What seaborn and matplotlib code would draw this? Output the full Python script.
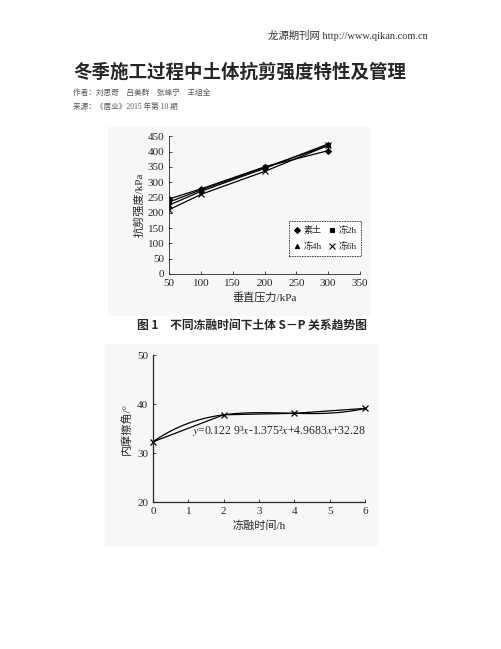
import numpy as np
import pandas as pd
import seaborn as sns
import matplotlib.pyplot as plt
from matplotlib.patches import Rectangle

# data
pressure = [50, 100, 200, 300]
s_plain = [245, 278, 350, 403]   # 素土
s_2h = [235, 275, 348, 420]      # 冻2h
s_4h = [225, 270, 345, 425]      # 冻4h
s_6h = [210, 260, 335, 420]      # 冻6h
groups = ['素土', '冻2h', '冻4h', '冻6h']
markers = ['D', 's', '^', 'x']

thaw_time = [0, 2, 4, 6]
friction = [32.3, 37.8, 38.1, 39.1]

sns.set_style('ticks')
plt.rcParams['font.family'] = ['Liberation Serif', 'Noto Sans CJK SC']
plt.rcParams['mathtext.fontset'] = 'stix'
plt.rcParams['axes.unicode_minus'] = False

fig = plt.figure(figsize=(5.02, 6.49), dpi=100)

# faint grey of the scanned figures
fig.patches.append(Rectangle((0.215, 0.515), 0.52, 0.29, transform=fig.transFigure,
                             color='#f7f7f7', zorder=-5))
fig.patches.append(Rectangle((0.21, 0.16), 0.54, 0.31, transform=fig.transFigure,
                             color='#f7f7f7', zorder=-5))

# header text
fig.text(0.853, 0.946, '龙源期刊网 http://www.qikan.com.cn', ha='right', va='center',
         fontsize=7.5, color='#333333')
fig.text(0.145, 0.889, '冬季施工过程中土体抗剪强度特性及管理', ha='left', va='center',
         fontsize=13.3, fontweight='bold', family='Noto Sans CJK SC')
fig.text(0.145, 0.857, '作者：刘思奇　吕美群　张峰宁　王组全', ha='left', va='center',
         fontsize=5.5, color='#555555', family='Noto Sans CJK SC')
fig.text(0.145, 0.834, '来源：《居业》2015 年第 10 期', ha='left', va='center',
         fontsize=5.5, color='#555555')

# chart 1
ax1 = fig.add_axes([0.337, 0.578, 0.380, 0.212])
ax1.set_facecolor('none')
df = pd.DataFrame({'p': pressure * 4,
                   's': s_plain + s_2h + s_4h + s_6h,
                   'g': np.repeat(groups, 4)})
for g, m in zip(groups, markers):
    sub = df[df['g'] == g]
    sns.lineplot(data=sub, x='p', y='s', ax=ax1, color='black', lw=0.9,
                 marker=m, markersize=3 if m != 'x' else 4.5, mew=0.8,
                 mec='black', mfc='black', label=g)
ax1.set_xlim(50, 350)
ax1.set_ylim(0, 450)
ax1.set_xticks(range(50, 351, 50))
ax1.set_yticks(range(0, 451, 50))
ax1.tick_params(direction='in', labelsize=8, length=2, width=0.6)
for sp in ['top', 'right']:
    ax1.spines[sp].set_visible(False)
for sp in ['left', 'bottom']:
    ax1.spines[sp].set_linewidth(0.6)
    ax1.spines[sp].set_linestyle((0, (2, 1)))
ax1.set_xlabel('垂直压力/kPa', fontsize=8, labelpad=3)
ax1.set_ylabel('抗剪强度/kPa', fontsize=8, labelpad=2)
h, l = ax1.get_legend_handles_labels()
order = [0, 2, 1, 3]
leg = ax1.legend([h[i] for i in order], [l[i] for i in order], ncol=2,
                 loc='lower right', bbox_to_anchor=(1.03, 0.1), fontsize=6.5,
                 frameon=True, fancybox=False, handlelength=0.8, handletextpad=0.3,
                 columnspacing=0.8, borderpad=0.5, labelspacing=0.8)
leg.get_frame().set_edgecolor('black')
leg.get_frame().set_linewidth(0.6)
leg.get_frame().set_linestyle((0, (2, 1)))
for lh in leg.legend_handles:
    lh.set_linestyle('none')

fig.text(0.272, 0.499, '图 1　不同冻融时间下土体 S－P 关系趋势图', ha='left', va='center',
         fontsize=8.5, fontweight='bold', family=['Noto Sans CJK SC'])

# chart 2
ax2 = fig.add_axes([0.305, 0.2265, 0.422, 0.2265])
ax2.set_facecolor('none')
ax2.plot(thaw_time, friction, color='black', lw=0.9, marker='x', markersize=5,
         mew=0.9, clip_on=False)
sns.regplot(x=thaw_time, y=friction, order=3, ci=None, ax=ax2, scatter=False,
            truncate=True, line_kws={'color': 'black', 'lw': 0.9})
ax2.set_xlim(0, 6)
ax2.set_ylim(20, 50)
ax2.set_xticks(range(0, 7))
ax2.set_yticks([20, 30, 40, 50])
ax2.tick_params(direction='in', labelsize=8, length=2.5, width=0.6)
for sp in ['top', 'right']:
    ax2.spines[sp].set_visible(False)
for sp in ['left', 'bottom']:
    ax2.spines[sp].set_linewidth(0.9)
ax2.set_xlabel('冻融时间/h', fontsize=8, labelpad=3)
ax2.set_ylabel('内摩擦角/°', fontsize=8, labelpad=4)
ax2.text(1.1, 34.5, '$y$=0.122 9³$x$-1.375²$x$+4.9683$x$+32.28', fontsize=8.5,
         ha='left', va='center')

fig.savefig('out.png', dpi=100)
